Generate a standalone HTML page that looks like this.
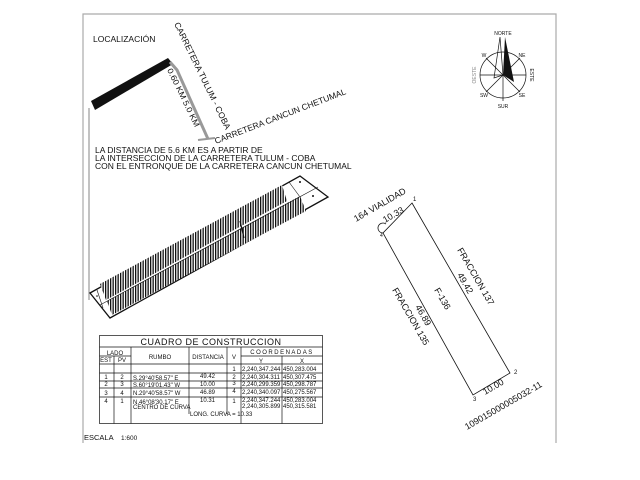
<!DOCTYPE html>
<html><head><meta charset="utf-8"><style>
html,body{margin:0;padding:0;background:#fff;}
svg{display:block;font-family:"Liberation Sans",Arial,sans-serif;}
</style></head><body>
<svg width="640" height="480" viewBox="0 0 640 480" xmlns="http://www.w3.org/2000/svg">
<defs>
<pattern id="h" width="2.5" height="10" patternUnits="userSpaceOnUse">
<rect width="2.5" height="10" fill="#fff"/><rect width="1.3" height="10" fill="#111"/>
</pattern>
</defs>
<!-- frame -->
<path d="M83,443 L83,14 L556,14 L556,443" fill="none" stroke="#aaa" stroke-width="1.2"/>
<line x1="89" y1="108" x2="89" y2="300" stroke="#666" stroke-width="0.8"/>

<text x="93" y="42" font-size="8.5" fill="#111">LOCALIZACIÓN</text>
<!-- black bar -->
<polygon points="91,101 168,58 173,64 95,110" fill="#111"/>
<!-- road -->
<polyline points="170,62 177,70 208,139" fill="none" stroke="#999" stroke-width="3"/>
<line x1="198" y1="140" x2="215" y2="138" stroke="#999" stroke-width="2"/>
<text transform="translate(174,24) rotate(64)" font-size="8.5" fill="#111" textLength="118" lengthAdjust="spacingAndGlyphs">CARRETERA TULUM - COBA</text>
<text transform="translate(167,70) rotate(64)" font-size="8" fill="#111" textLength="64" lengthAdjust="spacingAndGlyphs">0.60 KM   5.0 KM</text>
<text transform="translate(216,144) rotate(-21)" font-size="8.5" fill="#111">CARRETERA CANCUN CHETUMAL</text>
<text font-size="8.5" fill="#111"><tspan x="95" y="153">LA DISTANCIA DE 5.6 KM ES A PARTIR DE</tspan><tspan x="95" y="161">LA INTERSECCION DE LA CARRETERA TULUM - COBA</tspan><tspan x="95" y="169">CON EL ENTRONQUE DE LA CARRETERA CANCUN CHETUMAL</tspan></text>

<!-- lot strip -->
<polygon points="90,293 300,176 328,197 110,318" fill="#fff" stroke="#111" stroke-width="1.3"/>
<polygon points="100,284 282,185 287,201 106,300" fill="url(#h)"/>
<polygon points="107,301 300,196 306,211 112,315" fill="url(#h)"/>
<line x1="100" y1="305" x2="318" y2="187" stroke="#111" stroke-width="0.6"/>
<line x1="289" y1="182" x2="300" y2="197" stroke="#111" stroke-width="0.6"/>
<line x1="97" y1="290" x2="103" y2="308" stroke="#111" stroke-width="0.6"/>
<line x1="240" y1="221" x2="244" y2="238" stroke="#111" stroke-width="1.2"/>
<circle cx="300" cy="182" r="1" fill="#111"/><circle cx="313" cy="196" r="1" fill="#111"/>
<circle cx="97" cy="296" r="0.8" fill="#111"/>

<!-- table -->
<g stroke="#111" stroke-width="0.7" fill="none">
<rect x="99.5" y="335.5" width="223" height="88"/>
<line x1="99.5" y1="347" x2="322.5" y2="347"/>
<line x1="99.5" y1="364" x2="322.5" y2="364"/>
<line x1="114" y1="356" x2="114" y2="423.5"/>
<line x1="131" y1="347" x2="131" y2="423.5"/>
<line x1="189" y1="347" x2="189" y2="414"/>
<line x1="227" y1="347" x2="227" y2="414"/>
<line x1="241" y1="347" x2="241" y2="423.5"/>
<line x1="282" y1="356" x2="282" y2="423.5"/>
<line x1="99.5" y1="356" x2="131" y2="356"/>
<line x1="241" y1="356" x2="322.5" y2="356"/>
<line x1="99.5" y1="373" x2="322.5" y2="373"/>
<line x1="99.5" y1="381" x2="322.5" y2="381"/>
<line x1="99.5" y1="388" x2="322.5" y2="388"/>
<line x1="99.5" y1="397" x2="322.5" y2="397"/>
</g>
<g font-size="6" fill="#111">
<text x="211" y="345" font-size="9" text-anchor="middle" letter-spacing="0.5">CUADRO DE CONSTRUCCION</text>
<text x="115" y="355" text-anchor="middle">LADO</text>
<text x="106" y="362" text-anchor="middle">EST</text><text x="122" y="362" text-anchor="middle">PV</text>
<text x="160" y="359" text-anchor="middle">RUMBO</text>
<text x="208" y="359" text-anchor="middle">DISTANCIA</text>
<text x="234" y="359" text-anchor="middle">V</text>
<text x="282" y="354" text-anchor="middle" letter-spacing="1.5">COORDENADAS</text>
<text x="261" y="363" text-anchor="middle">Y</text><text x="302" y="363" text-anchor="middle">X</text>
<text x="234" y="371" text-anchor="middle">1</text><text x="242" y="371">2,240,347.244</text><text x="283" y="371">450,283.004</text>
<text x="106" y="379" text-anchor="middle">1</text><text x="122" y="379" text-anchor="middle">2</text><text x="133" y="380">S.29°40'58.57" E</text><text x="215" y="378" text-anchor="end">49.42</text><text x="234" y="379" text-anchor="middle">2</text><text x="242" y="379">2,240,304.311</text><text x="283" y="379">450,307.475</text>
<text x="106" y="386" text-anchor="middle">2</text><text x="122" y="386" text-anchor="middle">3</text><text x="133" y="387">S.60°19'01.43" W</text><text x="215" y="386" text-anchor="end">10.00</text><text x="234" y="385" text-anchor="middle">3</text><text x="242" y="386">2,240,299.359</text><text x="283" y="386">450,298.787</text>
<text x="106" y="395" text-anchor="middle">3</text><text x="122" y="395" text-anchor="middle">4</text><text x="133" y="395">N.29°40'58.57" W</text><text x="215" y="394" text-anchor="end">46.89</text><text x="234" y="393" text-anchor="middle">4</text><text x="242" y="394">2,240,340.097</text><text x="283" y="394">450,275.567</text>
<text x="106" y="403" text-anchor="middle">4</text><text x="122" y="403" text-anchor="middle">1</text><text x="133" y="404">N.46°08'30.17" E</text><text x="215" y="402" text-anchor="end">10.31</text><text x="234" y="403" text-anchor="middle">1</text><text x="242" y="402">2,240,347.244</text><text x="283" y="402">450,283.004</text>
<text x="133" y="409">CENTRO DE CURVA</text><text x="242" y="408">2,240,305.899</text><text x="283" y="408">450,315.581</text>
<text x="190" y="416">LONG. CURVA = 10.33</text>
</g>
<text x="84" y="440" font-size="7.5" fill="#111">ESCALA</text><text x="121" y="440" font-size="6.5" fill="#111">1:600</text>

<!-- plot -->
<polygon points="412,203 510,373 473,395 383,233" fill="none" stroke="#111" stroke-width="0.8"/>
<path d="M383,233 A5,5 0 1 1 386,224" fill="none" stroke="#111" stroke-width="0.8"/>
<g fill="#111">
<text x="413" y="201" font-size="6">1</text>
<text x="514" y="374" font-size="6">2</text>
<text x="473" y="401" font-size="6">3</text>
<text x="380" y="237" font-size="5">4</text>
<text transform="translate(356,222) rotate(-30)" font-size="9">164 VIALIDAD</text>
<text transform="translate(385,223) rotate(-30)" font-size="9">10.33</text>
<text transform="translate(457,250) rotate(60)" font-size="9">FRACCION 137</text>
<text transform="translate(457,275) rotate(60)" font-size="9">49.42</text>
<text transform="translate(434,290) rotate(60)" font-size="9">F-136</text>
<text transform="translate(392,290) rotate(60)" font-size="9">FRACCION 135</text>
<text transform="translate(415,307) rotate(60)" font-size="9">46.89</text>
<text transform="translate(485,395) rotate(-30)" font-size="9">10.00</text>
<text transform="translate(467,430) rotate(-30)" font-size="9">109015000005032-11</text>
</g>

<!-- compass -->
<g stroke="#111" stroke-width="0.7" fill="none">
<circle cx="503" cy="75" r="23"/>
<line x1="480" y1="75" x2="526" y2="75"/>
<line x1="503" y1="75" x2="503" y2="101"/>
<line x1="486" y1="58" x2="520" y2="92"/>
<line x1="520" y1="58" x2="486" y2="92"/>
<polygon points="500,37 494,78 503,75"/>
</g>
<polygon points="505,37 503,75 514,82" fill="#111"/>
<g font-size="5" fill="#111" text-anchor="middle">
<text x="503" y="35">NORTE</text>
<text x="503" y="108">SUR</text>
<text transform="translate(530,75) rotate(90)">ESTE</text>
<text transform="translate(476,75) rotate(-90)" fill="#888">OESTE</text>
<text x="484" y="57">W</text><text x="522" y="57">NE</text>
<text x="484" y="97">SW</text><text x="522" y="97">SE</text>
</g>
</svg>
</body></html>
